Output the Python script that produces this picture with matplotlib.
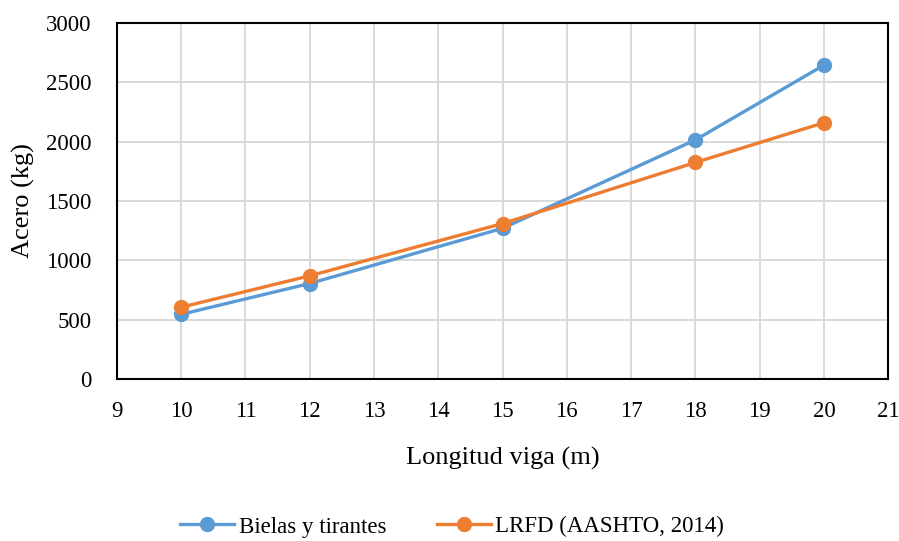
import matplotlib
matplotlib.use("Agg")
import matplotlib.pyplot as plt

plt.rcParams["font.family"] = ["Liberation Serif", "DejaVu Serif"]

# datos
longitud_m = [10, 12, 15, 18, 20]
bielas_kg = [545, 805, 1270, 2015, 2645]
lrfd_kg = [605, 870, 1310, 1825, 2160]

fig = plt.figure(figsize=(8.99, 5.41), dpi=100)
ax = fig.add_axes([0.130, 0.2994, 0.858, 0.658])

ax.plot(longitud_m, bielas_kg, color="#5B9BD5", linewidth=2.4, marker="o",
        markersize=10, label="Bielas y tirantes", zorder=3)
ax.plot(longitud_m, lrfd_kg, color="#ED7D31", linewidth=2.4, marker="o",
        markersize=10, label="LRFD (AASHTO, 2014)", zorder=4)

ax.set_xlim(9, 21)
ax.set_ylim(0, 3000)
ax.set_xticks(range(9, 22))
ax.set_yticks(range(0, 3001, 500))
ax.grid(True, color="#D9D9D9", linewidth=1.4)
ax.set_axisbelow(True)
for s in ax.spines.values():
    s.set_color("black")
    s.set_linewidth(1.5)
ax.tick_params(length=0, labelsize=16.5)
ax.tick_params(axis="x", pad=16)
ax.tick_params(axis="y", pad=18)

ax.set_xlabel("Longitud viga (m)", fontsize=19, labelpad=18)
ax.set_ylabel("Acero (kg)", fontsize=19, labelpad=8)

fig.legend(loc="center", bbox_to_anchor=(0.503, 0.026), ncol=2, frameon=False,
           fontsize=16.5, handlelength=2.35, columnspacing=2.2, handletextpad=0.2)

fig.savefig("out.png", dpi=100)
